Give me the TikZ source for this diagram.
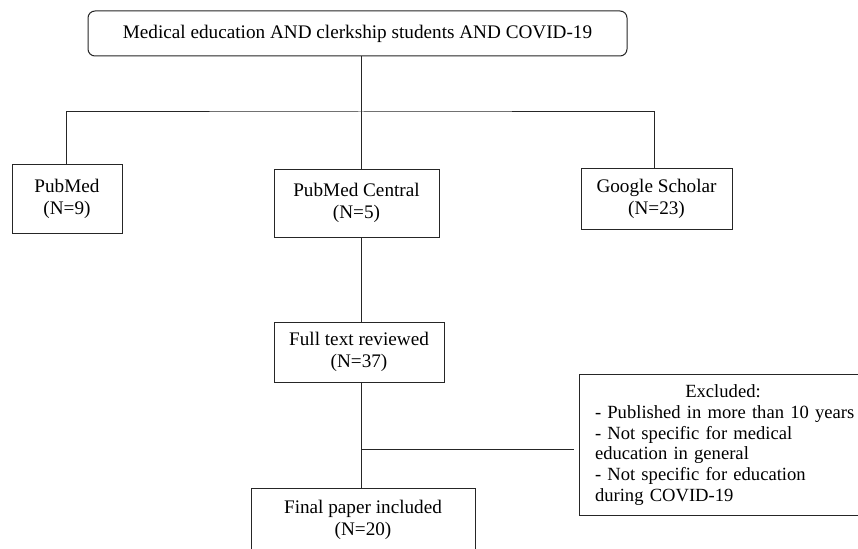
\documentclass[tikz,border=0pt]{standalone}
\usepackage{fontspec}
\setmainfont{Liberation Serif}
\usetikzlibrary{calc}
\tikzset{
  x=1pt, y=-1pt,
  ln/.style={draw=black!85, line width=1pt},
  boxnode/.style={ln, rectangle, inner sep=0pt, align=center,
    font=\fontsize{19.2}{23}\selectfont},
}
\begin{document}
\begin{tikzpicture}
\clip (0,0) rectangle (858,548);
\fill[white] (0,0) rectangle (858,548);

\node[boxnode, rounded corners=7pt, minimum width=539pt, minimum height=45pt] (top) at (357.5,33.5)
  {Medical education AND clerkship students AND COVID-19};
\node[boxnode, minimum width=110pt, minimum height=68pt] (pubmed) at (67,199)
  {PubMed\\[-1pt](N=9)};
\node[boxnode, minimum width=165pt, minimum height=68pt] (pmc) at (356.5,203)
  {PubMed Central\\[-1pt](N=5)};
\node[boxnode, minimum width=151pt, minimum height=61pt] (gs) at (656.5,198.5)
  {Google Scholar\\[-1pt](N=23)};
\node[boxnode, minimum width=170pt, minimum height=60pt] (full) at (359,352)
  {Full text reviewed\\[-1pt](N=37)};
\node[boxnode, minimum width=224pt, minimum height=64pt] (final) at (363,520)
  {Final paper included\\[-1pt](N=20)};
\node[boxnode, minimum width=288pt, minimum height=141pt, text width=256pt, align=left,
  font=\fontsize{18.6}{20.7}\selectfont] (excl) at (723,445)
  {\makebox[\linewidth][c]{Excluded:}\\
   \makebox[\linewidth][l]{- Published in more than 10 years}\\
   - Not specific for medical\\
   education in general\\
   - Not specific for education\\
   during COVID-19};

\coordinate (hub) at (361,112);
\coordinate (br) at (361,449);

\draw[ln] (top.south -| hub) -- (hub);
\draw[ln] (pubmed.north -| 66,0) |- (hub) -| (gs.north -| 654,0);
\draw[ln] (hub) -- (pmc.north -| hub);
\draw[ln] (pmc.south -| hub) -- (full.north -| hub);
\draw[ln] (full.south -| hub) -- (final.north -| hub);
\draw[ln] (br) -- ($(br -| excl.west)+(-5,0)$);
\end{tikzpicture}
\end{document}
